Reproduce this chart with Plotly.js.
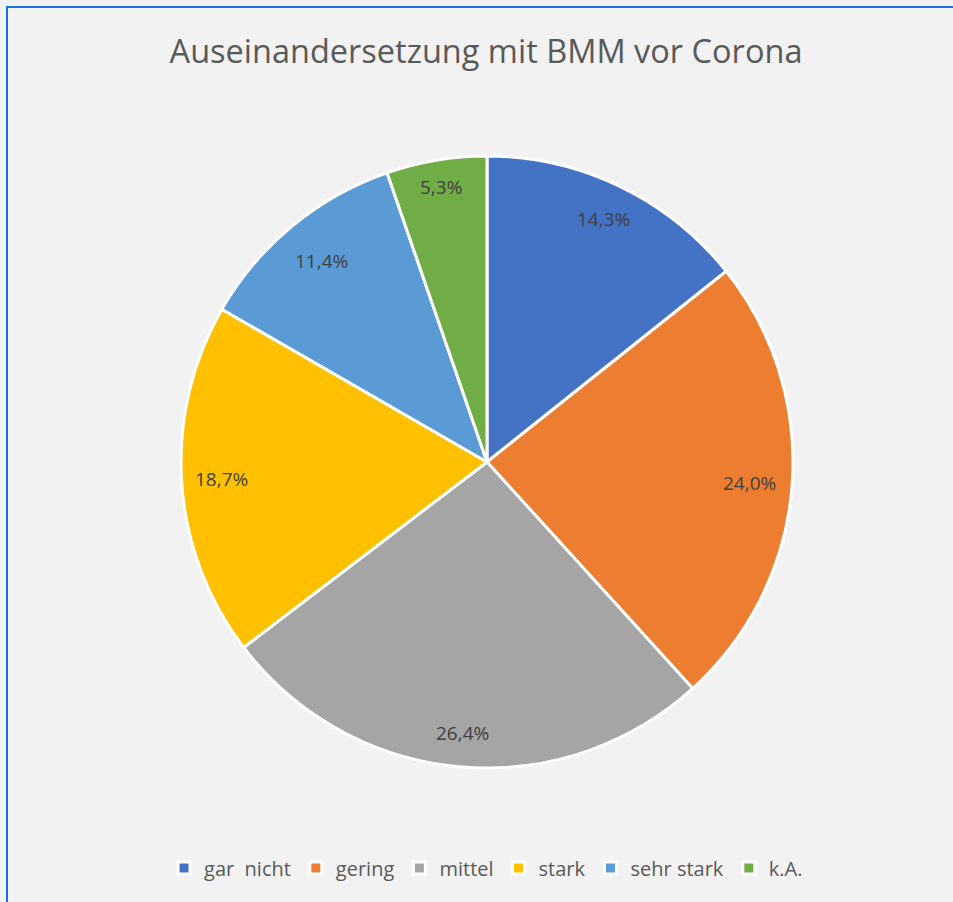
<!DOCTYPE html>
<html>
<head>
<meta charset="utf-8">
<script src="https://cdn.plot.ly/plotly-3.0.1.min.js"></script>
<style>
html,body{margin:0;padding:0;background:#f2f2f2;overflow:hidden;}
#chart{position:absolute;left:0;top:0;width:953px;height:902px;}
#frame{position:absolute;left:6px;top:6px;width:1000px;height:1000px;border:2px solid #1a6fd8;pointer-events:none;box-sizing:border-box;}
</style>
</head>
<body>
<div id="chart"></div>
<div id="frame"></div>
<script>
const categories = ["gar\u00a0 nicht", "gering", "mittel", "stark", "sehr stark", "k.A."];
const values = [14.3, 24.0, 26.4, 18.7, 11.4, 5.3];
const colors = ["#4472C4", "#ED7D31", "#A5A5A5", "#FFC000", "#5B9BD5", "#70AD47"];
const chartTitle = "Auseinandersetzung mit BMM vor Corona";

const FONT = "'Open Sans', 'Noto Sans', sans-serif";
const W = 953, H = 902;
const dom = {x: [0.18993, 0.83211], y: [0.14856, 0.82705]};

const trace = {
  type: "pie",
  labels: categories,
  values: values,
  sort: false,
  direction: "clockwise",
  rotation: 0,
  marker: {colors: colors, line: {color: "#ffffff", width: 3}},
  textinfo: "none",
  hoverinfo: "label+value",
  domain: dom
};

// data labels placed at the middle angle of each slice, derived from the values
const total = values.reduce((a, b) => a + b, 0);
const cx = (dom.x[0] + dom.x[1]) / 2, cy = (dom.y[0] + dom.y[1]) / 2;
const rx = (dom.x[1] - dom.x[0]) / 2, ry = (dom.y[1] - dom.y[0]) / 2 * (W * (dom.x[1]-dom.x[0])) / (H * (dom.y[1]-dom.y[0])) ;
const rFrac = [0.88, 0.86, 0.89, 0.87, 0.85, 0.91];
let cum = 0;
const annotations = values.map((v, i) => {
  const mid = (cum + v / 2) / total * 2 * Math.PI;
  cum += v;
  const rr = rFrac[i];
  return {
    xref: "paper", yref: "paper",
    x: cx + rr * rx * Math.sin(mid),
    y: cy + rr * ry * Math.cos(mid),
    text: v.toFixed(1).replace(".", ",") + "%",
    showarrow: false,
    xanchor: "center", yanchor: "middle",
    font: {family: FONT, size: 19, color: "#404040"}
  };
});

const layout = {
  width: W,
  height: H,
  paper_bgcolor: "#f2f2f2",
  plot_bgcolor: "#f2f2f2",
  separators: ",.",
  margin: {l: 0, r: 0, t: 0, b: 0},
  title: {
    text: chartTitle,
    font: {family: FONT, size: 32.5, color: "#595959"},
    x: 0.51, xanchor: "center",
    y: 1 - 52/902, yanchor: "middle",
    xref: "paper", yref: "paper"
  },
  annotations: annotations,
  showlegend: true,
  legend: {
    orientation: "h",
    x: 0.51, xanchor: "center",
    y: 1 - 868/902, yanchor: "middle",
    font: {family: FONT, size: 20, color: "#595959"},
    bgcolor: "rgba(0,0,0,0)",
    itemclick: false
  }
};

Plotly.newPlot("chart", [trace], layout, {displayModeBar: false, staticPlot: true});
</script>
</body>
</html>
